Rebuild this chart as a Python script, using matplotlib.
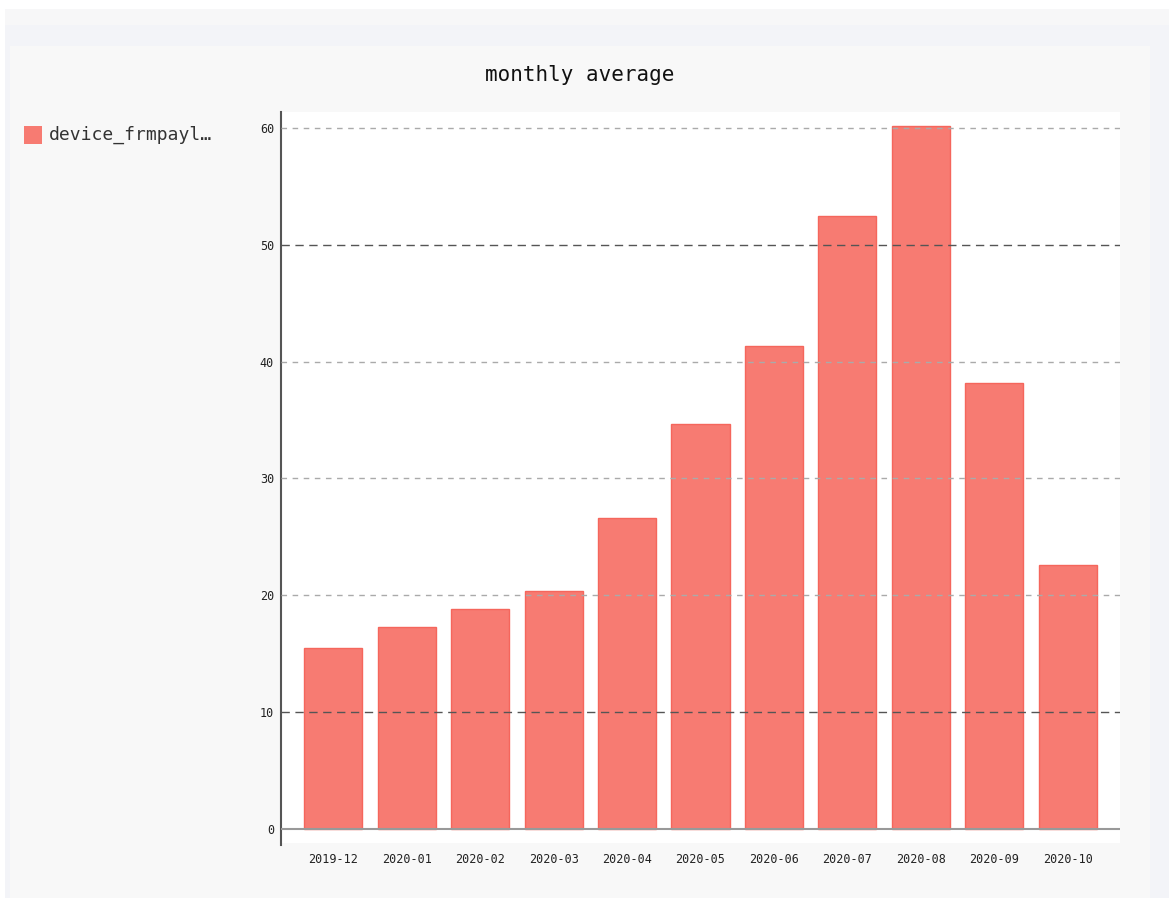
import matplotlib
matplotlib.use("Agg")
import matplotlib.pyplot as plt
from matplotlib.patches import Rectangle

# Data
months = ["2019-12", "2020-01", "2020-02", "2020-03", "2020-04", "2020-05",
          "2020-06", "2020-07", "2020-08", "2020-09", "2020-10"]
avg_payload = [15.5, 17.3, 18.8, 20.4, 26.6, 34.7, 41.3, 52.5, 60.2, 38.2, 22.6]
y_ticks = [0, 10, 20, 30, 40, 50, 60]
major_ticks = [10, 50]
series_name = "device_frmpayl…"
title = "monthly average"

W, H = 1169, 898
fig = plt.figure(figsize=(W / 100, H / 100), dpi=100)
fig.patch.set_facecolor("white")

def px_rect(x0, y0, x1, y1, color, z=-5):
    fig.patches.append(Rectangle((x0 / W, 1 - y1 / H), (x1 - x0) / W, (y1 - y0) / H,
                                 transform=fig.transFigure, facecolor=color,
                                 edgecolor="none", zorder=z))

# page backdrop
px_rect(5, 9, 1169, 25, "#f7f7f8")
px_rect(5, 25, 1169, 46, "#f3f4f8")
px_rect(5, 46, 10, 898, "#f3f4f8")
px_rect(1150, 46, 1169, 898, "#f3f4f8")
px_rect(10, 46, 1150, 898, "#f8f8f8")

font = "DejaVu Sans Mono"

ax = fig.add_axes([281 / W, (H - 843) / H, (1120 - 281) / W, (843 - 112) / H])
ax.set_zorder(2)
ax.set_facecolor("white")

x = list(range(len(months)))
ax.bar(x, avg_payload, width=0.79, color="#f77b72", edgecolor="#f5665c",
       linewidth=1.0, zorder=2)

ax.set_xlim(-0.71, len(months) - 1 + 0.71)
ax.set_ylim(-1.2, 61.37)

for t in y_ticks[1:]:
    if t in major_ticks:
        ax.axhline(t, color="#555555", lw=1.0, dashes=(6, 4), zorder=3)
    else:
        ax.axhline(t, color="#aaaaaa", lw=1.0, dashes=(4, 4), zorder=3)
ax.axhline(0, color="#999999", lw=1.5, zorder=3)

for s in ["top", "right", "bottom"]:
    ax.spines[s].set_visible(False)
ax.spines["left"].set_color("#555555")
ax.spines["left"].set_linewidth(1.5)
ax.spines["left"].set_bounds(-1.4, 61.37)

ax.set_yticks(y_ticks)
ax.set_yticklabels([str(t) for t in y_ticks], fontfamily=font, fontsize=8.5, color="#222222")
ax.set_xticks(x)
ax.set_xticklabels(months, fontfamily=font, fontsize=8.5, color="#222222")
ax.tick_params(axis="y", length=0, pad=5)
ax.tick_params(axis="x", length=0, pad=7)

fig.text(580 / W, 1 - 75 / H, title, fontfamily=font, fontsize=15,
         ha="center", va="center", color="#111111")

px_rect(24, 126, 42, 144, "#f77b72", z=1)
fig.text(49 / W, 1 - 135 / H, series_name, fontfamily=font, fontsize=13,
         ha="left", va="center", color="#333333")

fig.savefig("out.png", dpi=100, facecolor=fig.get_facecolor())
